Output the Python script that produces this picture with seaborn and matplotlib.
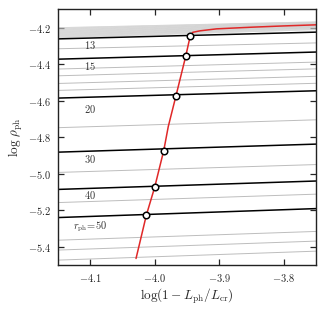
"""
Densidad en la fotosfera frente a log(1 - L_ph/L_cr) para varios radios r_ph.
"""
import numpy as np
import pandas as pd
import matplotlib
matplotlib.use('Agg')
import matplotlib.pyplot as plt
from matplotlib.ticker import FuncFormatter
import seaborn as sns

# Limites del eje x (extremos de cada linea de r_ph constante)
x_extremos = [-4.15, -3.75]

# Lineas negras (r_ph etiquetados): log rho en el extremo izquierdo y derecho
r_negras = [13, 15, 20, 30, 40, 50]
rho_negras_izq = [-4.262, -4.373, -4.586, -4.882, -5.086, -5.240]
rho_negras_der = [-4.225, -4.334, -4.546, -4.838, -5.040, -5.191]

# Lineas grises intermedias
rho_grises_izq = [-4.316, -4.427, -4.464, -4.506, -4.544, -4.748, -4.993,
                  -5.158, -5.364, -5.418, -5.473]
rho_grises_der = [-4.284, -4.389, -4.426, -4.467, -4.505, -4.705, -4.950,
                  -5.112, -5.316, -5.369, -5.424]

# Banda densa de lineas grises en la parte superior (r_ph pequenos)
rho_banda_izq = [-4.200, -4.204, -4.208, -4.212, -4.216, -4.220, -4.224,
                 -4.228, -4.232, -4.236, -4.240, -4.244, -4.248, -4.252, -4.256]
rho_banda_der = [-4.168, -4.171, -4.174, -4.177, -4.180, -4.183, -4.186,
                 -4.189, -4.192, -4.195, -4.198, -4.201, -4.204, -4.208, -4.212]

# Curva roja (lugar de la fotosfera)
roja_x = [-4.029, -4.013, -4.000, -3.986, -3.979, -3.967, -3.952, -3.945,
          -3.941, -3.930, -3.904, -3.850, -3.800, -3.750]
roja_y = [-5.464, -5.227, -5.073, -4.873, -4.742, -4.573, -4.358, -4.247,
          -4.226, -4.218, -4.207, -4.198, -4.191, -4.185]

# Circulos en las intersecciones
circ_x = [-3.945, -3.952, -3.967, -3.986, -4.000, -4.013]
circ_y = [-4.247, -4.358, -4.573, -4.873, -5.073, -5.227]

# Etiquetas de cada linea negra
etiquetas = [r'$13$', r'$15$', r'$20$', r'$30$', r'$40$', r'$r_{\rm ph}\!=\!50$']
etiq_y = [-4.298, -4.410, -4.646, -4.918, -5.115, -5.289]


def tabla_lineas(izq, der):
    filas = []
    for i, (a, b) in enumerate(zip(izq, der)):
        filas.append({'id': i, 'x': x_extremos[0], 'y': a})
        filas.append({'id': i, 'x': x_extremos[1], 'y': b})
    return pd.DataFrame(filas)


sns.set_style('ticks')
plt.rcParams['font.family'] = ['DejaVu Serif']
plt.rcParams['mathtext.fontset'] = 'cm'

fig, ax = plt.subplots(figsize=(3.26, 3.10), dpi=100)
fig.subplots_adjust(left=0.178, right=0.969, bottom=0.145, top=0.970)

sns.lineplot(data=tabla_lineas(rho_banda_izq, rho_banda_der), x='x', y='y',
             units='id', estimator=None, color='#c4c4c4', lw=0.5, alpha=0.8, ax=ax)
sns.lineplot(data=tabla_lineas(rho_grises_izq, rho_grises_der), x='x', y='y',
             units='id', estimator=None, color='#bdbdbd', lw=0.7, ax=ax)
sns.lineplot(data=tabla_lineas(rho_negras_izq, rho_negras_der), x='x', y='y',
             units='id', estimator=None, color='black', lw=1.1, ax=ax)

sns.lineplot(x=roja_x, y=roja_y, sort=False, color='#e02828', lw=1.1, ax=ax)
sns.scatterplot(x=circ_x, y=circ_y, s=22, facecolor='white', edgecolor='black',
                linewidth=1.1, zorder=5, ax=ax)

for texto, y in zip(etiquetas, etiq_y):
    ax.text(-4.1, y, texto, ha='center', va='center', fontsize=7.5, color='#333333')

ax.set_xlim(-4.15, -3.75)
ax.set_ylim(-5.5, -4.1)
ax.set_xticks([-4.1, -4.0, -3.9, -3.8])
ax.set_yticks([-5.4, -5.2, -5.0, -4.8, -4.6, -4.4, -4.2])
fmt = FuncFormatter(lambda v, pos: r'$%.1f$' % v)
ax.xaxis.set_major_formatter(fmt)
ax.yaxis.set_major_formatter(fmt)
ax.tick_params(direction='in', top=True, right=True, length=4, width=0.9,
               labelsize=7.5, pad=5)
for s in ax.spines.values():
    s.set_linewidth(1.0)
    s.set_color('#222222')

ax.set_xlabel(r'$\log(1-L_{\rm ph}/L_{\rm cr})$', fontsize=9.5, labelpad=2)
ax.set_ylabel(r'$\log\,\rho_{\rm ph}$', fontsize=9.5, labelpad=2)

fig.savefig('out.png', dpi=100)
